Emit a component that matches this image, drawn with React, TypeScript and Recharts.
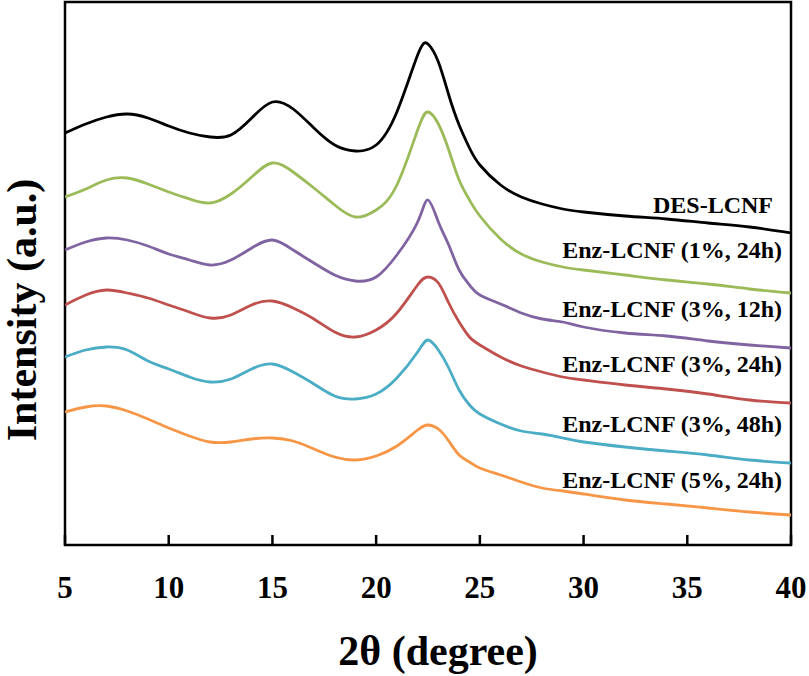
import React from 'react';
import { LineChart, Line, XAxis, YAxis, ReferenceArea } from 'recharts';

// 2θ positions (degree)
const twoTheta = [
  5, 6, 7, 8, 9, 10, 11, 12, 13, 14, 15, 16, 17, 18, 19, 20, 21,
  22, 22.5, 23, 23.5, 24, 24.5,
  25, 26, 27, 28, 29, 30,
  32, 34, 36, 38, 40,
];

// intensities, already offset (stacked) as in the figure
const desLcnf = [
  412, 421, 428, 431, 427, 419, 412, 408, 410, 427, 443, 436, 417, 400, 394, 400, 433,
  490, 501, 483, 450, 420, 397,
  380, 360, 348, 341, 336, 333,
  329, 326, 322, 318, 312,
];
const enz1_24 = [
  348, 356, 365, 367, 361, 353, 346, 342, 351, 368, 382, 373, 357, 340, 328, 335, 360,
  415, 433, 421, 395, 365, 345,
  329, 306, 291, 283, 278, 275,
  270, 265, 261, 256, 252,
];
const enz3_12 = [
  295, 303, 307, 305, 299, 291, 285, 280, 285, 297, 305, 295, 282, 270, 264, 268, 290,
  323, 345, 323, 300, 275, 260,
  250, 241, 232, 226, 223, 218,
  212, 209, 204, 200, 197,
];
const enz3_24 = [
  240, 250, 255, 252, 247, 240, 233, 227, 230, 240, 244, 237, 226, 213, 208, 215, 232,
  260, 268, 262, 242, 223, 208,
  200, 188, 179, 173, 168, 165,
  160, 156, 151, 145, 142,
];
const enz3_48 = [
  188, 195, 198, 195, 184, 176, 168, 163, 166, 176, 181, 173, 161, 149, 146, 151, 167,
  193, 205, 195, 177, 155, 140,
  131, 121, 114, 111, 107, 103,
  98, 94, 90, 85, 82,
];
const enz5_24 = [
  133, 138, 139, 134, 126, 117, 109, 103, 103, 106, 107, 104, 96, 88, 85, 89, 99,
  115, 120, 116, 104, 90, 83,
  77, 70, 63, 57, 54, 51,
  45, 41, 37, 33, 30,
];

const xTicks = [5, 10, 15, 20, 25, 30, 35, 40];

const seriesKeys = ['des', 'e1_24', 'e3_12', 'e3_24', 'e3_48', 'e5_24'];
const seriesValues = [desLcnf, enz1_24, enz3_12, enz3_24, enz3_48, enz5_24];
const seriesNames = [
  'DES-LCNF',
  'Enz-LCNF (1%, 24h)',
  'Enz-LCNF (3%, 12h)',
  'Enz-LCNF (3%, 24h)',
  'Enz-LCNF (3%, 48h)',
  'Enz-LCNF (5%, 24h)',
];
const seriesColors = ['#000000', '#9BBB59', '#8064A2', '#C0504D', '#4BACC6', '#F79646'];

const data = twoTheta.map((x, i) => {
  const row: Record<string, number> = { x };
  seriesKeys.forEach((k, s) => {
    row[k] = seriesValues[s][i];
  });
  return row;
});

const W = 809;
const H = 676;
const TOP = 2;
const RIGHT = 18;
const LEFT = 65;
const X_AXIS_H = 131;
const AXIS_Y = H - X_AXIS_H;
const FONT = '"Liberation Serif", "Times New Roman", serif';

// label placement (right-aligned x, baseline y) in pixels
const labelPos = [
  [773, 213],
  [782, 258],
  [782, 317],
  [782, 372],
  [782, 432],
  [782, 488],
];

const XTick = (props: any) => {
  const { x, payload } = props;
  return (
    <g>
      <line x1={x} x2={x} y1={AXIS_Y - 10} y2={AXIS_Y} stroke="#000" strokeWidth={2.5} />
      <text
        x={x}
        y={AXIS_Y + 53}
        textAnchor="middle"
        fontFamily={FONT}
        fontWeight="bold"
        fontSize={31}
        fill="#000"
      >
        {payload.value}
      </text>
    </g>
  );
};

export default function App() {
  return (
    <div style={{ position: 'absolute', left: 0, top: 0, width: W, height: H, background: '#fff' }}>
      <LineChart
        width={W}
        height={H}
        data={data}
        margin={{ top: TOP, right: RIGHT, left: LEFT, bottom: 0 }}
      >
        <XAxis
          dataKey="x"
          type="number"
          domain={[5, 40]}
          ticks={xTicks}
          allowDataOverflow
          height={X_AXIS_H}
          axisLine={false}
          tickLine={false}
          tickSize={0}
          tickMargin={0}
          interval={0}
          tick={<XTick />}
        />
        <YAxis type="number" domain={[0, H - TOP - X_AXIS_H]} hide width={0} allowDataOverflow />
        <ReferenceArea
          x1={5}
          x2={40}
          y1={0}
          y2={H - TOP - X_AXIS_H}
          fill="none"
          fillOpacity={0}
          stroke="#000"
          strokeWidth={2.5}
          ifOverflow="visible"
        />
        {seriesKeys.map((k, s) => (
          <Line
            key={k}
            dataKey={k}
            name={seriesNames[s]}
            type="natural"
            stroke={seriesColors[s]}
            strokeWidth={2.8}
            dot={false}
            activeDot={false}
            isAnimationActive={false}
          />
        ))}
      </LineChart>
      <svg
        width={W}
        height={H}
        style={{ position: 'absolute', left: 0, top: 0, pointerEvents: 'none' }}
      >
        {seriesNames.map((n, s) => (
          <text
            key={n}
            x={labelPos[s][0]}
            y={labelPos[s][1]}
            textAnchor="end"
            fontFamily={FONT}
            fontWeight="bold"
            fontSize={24}
            fill="#000"
          >
            {n}
          </text>
        ))}
        <text
          x={438}
          y={665}
          textAnchor="middle"
          fontFamily={FONT}
          fontWeight="bold"
          fontSize={42}
          fill="#000"
        >
          2θ (degree)
        </text>
        <text
          x={0}
          y={0}
          transform="translate(36, 310) rotate(-90)"
          textAnchor="middle"
          fontFamily={FONT}
          fontWeight="bold"
          fontSize={42}
          fill="#000"
        >
          Intensity (a.u.)
        </text>
      </svg>
    </div>
  );
}
